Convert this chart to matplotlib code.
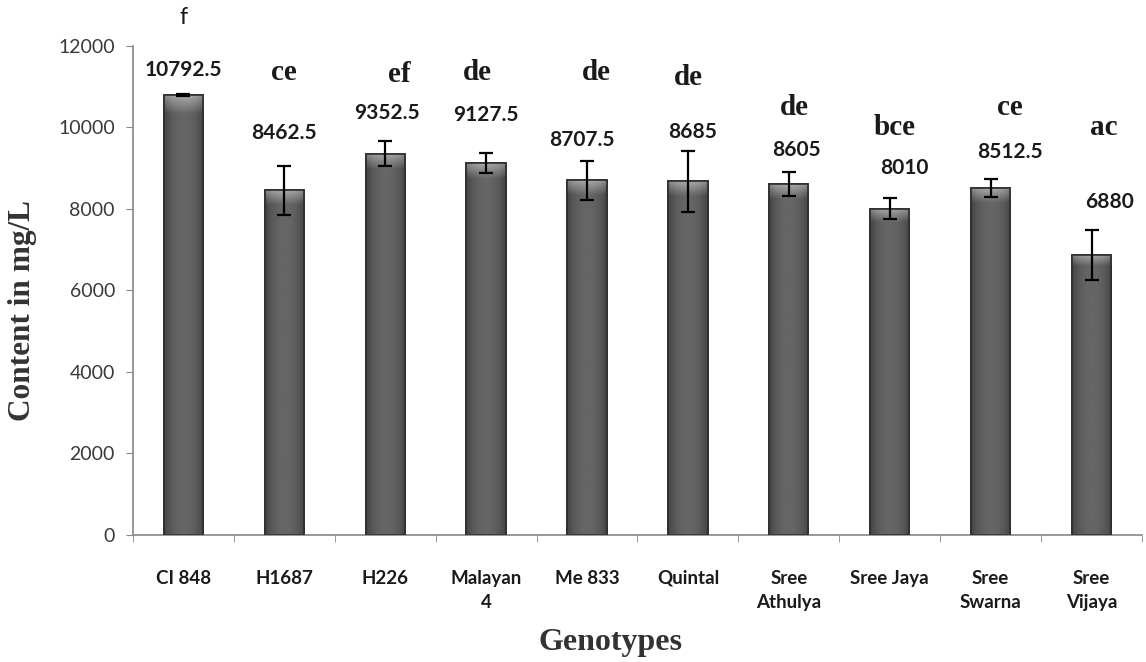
import numpy as np
import matplotlib
matplotlib.use('Agg')
import matplotlib.pyplot as plt

# data
genotypes = ['CI 848', 'H1687', 'H226', 'Malayan\n4', 'Me 833', 'Quintal',
             'Sree\nAthulya', 'Sree Jaya', 'Sree\nSwarna', 'Sree\nVijaya']
means = [10792.5, 8462.5, 9352.5, 9127.5, 8707.5, 8685, 8605, 8010, 8512.5, 6880]
errors = [30, 600, 310, 255, 480, 750, 295, 255, 220, 615]
letters = ['f', 'ce', 'ef', 'de', 'de', 'de', 'de', 'bce', 'ce', 'ac']

# label layout (as in the reference, labels float at uneven heights)
value_y = [11411, 9865, 10356, 10307, 9693, 9890, 9448, 9006, 9399, 8172]
value_dx = [0, 0, 0.02, 0, -0.05, 0.05, 0.08, 0.14, 0.19, 0.18]
letter_y = [12690, 11340, 11290, 11340, 11340, 11215, 10500, 10010, 10500, 10010]
letter_dx = [0, 0, 0.14, -0.09, 0.09, 0, 0.06, 0.05, 0.19, 0.12]

fig = plt.figure(figsize=(11.46, 6.62), dpi=100)
ax = fig.add_axes([0.116, 0.192, 0.8805, 0.7385])

x = np.arange(len(genotypes))
bars = ax.bar(x, means, width=0.39, color='#555555', edgecolor='#2e2e2e',
              linewidth=1.2, zorder=2)

# shaded cylinder look: darker sides, light band at the top
cols = np.linspace(0, 1, 60)
shade = 0.24 + 0.16 * np.sin(np.pi * cols) ** 0.6
for b in bars:
    x0, w, h = b.get_x(), b.get_width(), b.get_height()
    rows = np.linspace(0, 1, 200)[:, None]
    top = np.clip((rows - 0.96) / 0.04, 0, 1) * 0.25
    img = np.clip(shade[None, :] + top, 0, 1)
    im = ax.imshow(img, cmap='gray', vmin=0, vmax=1, aspect='auto',
                   extent=[x0, x0 + w, 0, h], origin='lower', zorder=2.5,
                   interpolation='bilinear')
    im.set_clip_path(b)
    ax.add_patch(plt.Rectangle((x0, 0), w, h, fill=False, edgecolor='#2e2e2e',
                               linewidth=1.2, zorder=2.6))

ax.errorbar(x, means, yerr=errors, fmt='none', ecolor='black', elinewidth=1.6,
            capsize=5, capthick=1.6, zorder=3)

for i in range(len(x)):
    ax.text(x[i] + value_dx[i], value_y[i], f'{means[i]:g}', ha='center',
            va='center', fontsize=15, fontweight='bold', family='Lato',
            color='#1a1a1a')
    if i == 0:
        ax.text(x[i] + letter_dx[i], letter_y[i], letters[i], ha='center',
                va='center', fontsize=17, family='Lato', color='#1a1a1a',
                clip_on=False)
    else:
        ax.text(x[i] + letter_dx[i], letter_y[i], letters[i], ha='center',
                va='center', fontsize=21, fontweight='bold',
                family='Liberation Serif', color='#1a1a1a', clip_on=False)

ax.set_xlim(-0.5, len(x) - 0.5)
ax.set_ylim(0, 12000)
ax.set_yticks(range(0, 12001, 2000))
ax.set_xticks(x)
ax.set_xticklabels(genotypes, fontsize=13.5, fontweight='bold', family='Lato',
                   color='#1a1a1a', linespacing=1.55)
ax.set_xticks(np.arange(-0.5, len(x)), minor=True)
ax.tick_params(axis='x', which='major', length=0, pad=25)
ax.tick_params(axis='x', which='minor', length=5, color='#888888', direction='out')
ax.tick_params(axis='y', length=5, color='#888888', labelsize=14, labelcolor='#3a3a3a',
               pad=8)
for lbl in ax.get_yticklabels():
    lbl.set_family('Lato')

for s in ['top', 'right']:
    ax.spines[s].set_visible(False)
for s in ['left', 'bottom']:
    ax.spines[s].set_color('#888888')
    ax.spines[s].set_linewidth(1.2)

ax.set_ylabel('Content in mg/L', fontsize=22.5, fontweight='bold',
              family='Liberation Serif', color='#333333')
ax.set_xlabel('Genotypes', fontsize=23, fontweight='bold',
              family='Liberation Serif', color='#333333')
ax.yaxis.set_label_coords(-0.095, 0.46)
ax.xaxis.set_label_coords(0.473, -0.19)

fig.savefig('out.png', dpi=100)
